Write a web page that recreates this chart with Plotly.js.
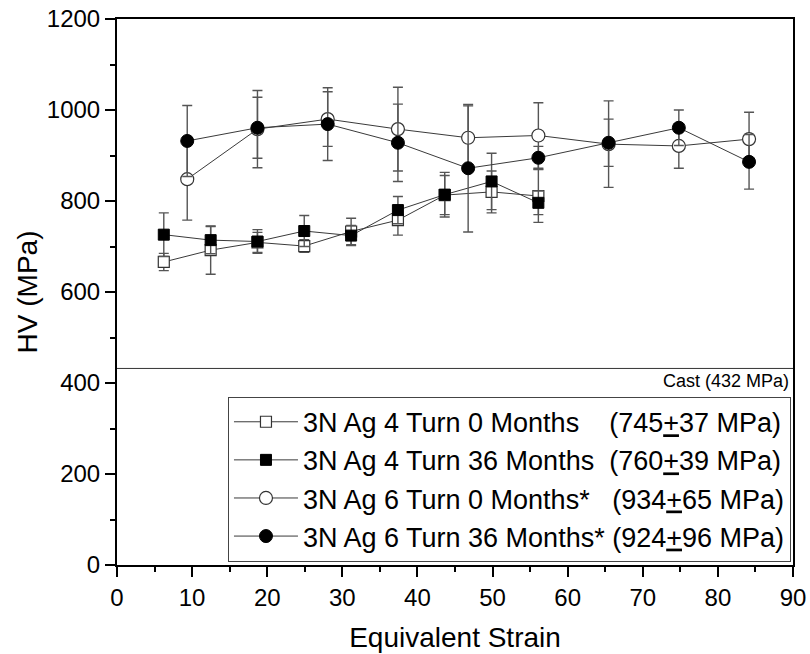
<!DOCTYPE html>
<html>
<head>
<meta charset="utf-8">
<script src="https://cdn.plot.ly/plotly-3.0.1.min.js"></script>
<style>
html,body{margin:0;padding:0;background:#fff;}
#chart{width:810px;height:654px;}
</style>
</head>
<body>
<div id="chart"></div>
<script>
// ---- data ----
const strain4Turn = [6.23, 12.47, 18.7, 24.93, 31.17, 37.4, 43.63, 49.87, 56.1];
const strain6Turn = [9.35, 18.7, 28.05, 37.4, 46.75, 56.1, 65.45, 74.8, 84.15];

const hv4Turn0 = [666, 692, 709, 701, 733, 758, 813, 820, 811];
const err4Turn0 = [19, 53, 22, 14, 29, 33, 43, 46, 58];

const hv4Turn36 = [726, 714, 711, 734, 724, 780, 814, 843, 796];
const err4Turn36 = [48, 30, 26, 34, 22, 30, 49, 62, 26];

const hv6Turn0 = [848, 958, 980, 958, 939, 944, 925, 921, 936];
const err6Turn0 = [90, 85, 60, 92, 70, 72, 95, 49, 59];

const hv6Turn36 = [932, 961, 969, 928, 872, 895, 928, 961, 886];
const err6Turn36 = [78, 67, 80, 85, 140, 25, 52, 39, 60];

const seriesNames = ['3N Ag 4 Turn 0 Months', '3N Ag 4 Turn 36 Months', '3N Ag 6 Turn 0 Months*', '3N Ag 6 Turn 36 Months*'];
const seriesMeans = [745, 760, 934, 924];
const seriesSD = [37, 39, 65, 96];
const castHV = 432;

// ---- styling ----
const FONT = 'Liberation Sans, Arial, sans-serif';
const LINE = '#3a3a3a';
const pads = [4, 2, 3, 1];

function label(i) {
  return seriesNames[i] + '\u00A0'.repeat(pads[i]) + '(' + seriesMeans[i] + '<u>+</u>' + seriesSD[i] + ' MPa)';
}
function errBars(arr) {
  return {type: 'data', array: arr, visible: true, color: '#555', thickness: 1.4, width: 5};
}

const traces = [
  {x: strain4Turn, y: hv4Turn0, error_y: errBars(err4Turn0), mode: 'lines+markers', name: label(0),
   line: {color: LINE, width: 1}, marker: {symbol: 'square', size: 11, color: '#fff', line: {color: '#333', width: 1.2}}},
  {x: strain4Turn, y: hv4Turn36, error_y: errBars(err4Turn36), mode: 'lines+markers', name: label(1),
   line: {color: LINE, width: 1}, marker: {symbol: 'square', size: 11, color: '#000', line: {color: '#000', width: 1}}},
  {x: strain6Turn, y: hv6Turn0, error_y: errBars(err6Turn0), mode: 'lines+markers', name: label(2),
   line: {color: LINE, width: 1}, marker: {symbol: 'circle', size: 13, color: '#fff', line: {color: '#333', width: 1.2}}},
  {x: strain6Turn, y: hv6Turn36, error_y: errBars(err6Turn36), mode: 'lines+markers', name: label(3),
   line: {color: LINE, width: 1}, marker: {symbol: 'circle', size: 13, color: '#000', line: {color: '#000', width: 1}}}
];

const layout = {
  width: 810, height: 654,
  margin: {l: 117, r: 17, t: 19, b: 89},
  paper_bgcolor: '#fff', plot_bgcolor: '#fff',
  font: {family: FONT, size: 24, color: '#000'},
  showlegend: true,
  legend: {
    x: 0.997, xanchor: 'right', y: 0.006, yanchor: 'bottom',
    bgcolor: '#fff', bordercolor: '#444', borderwidth: 1,
    font: {family: FONT, size: 27, color: '#000'},
    itemwidth: 64, traceorder: 'normal', tracegroupgap: 0
  },
  xaxis: {
    range: [0, 90], tick0: 0, dtick: 10,
    ticks: 'outside', ticklen: 10, tickwidth: 2, tickcolor: '#000',
    showline: true, linewidth: 2, linecolor: '#000', mirror: true,
    showgrid: false, zeroline: false,
    tickfont: {family: FONT, size: 24, color: '#000'},
    minor: {dtick: 5, ticks: 'outside', ticklen: 5, tickwidth: 2, tickcolor: '#000', showgrid: false},
    title: {text: 'Equivalent Strain', font: {family: FONT, size: 28, color: '#000'}, standoff: 18}
  },
  yaxis: {
    range: [0, 1200], tick0: 0, dtick: 200,
    ticks: 'outside', ticklen: 10, tickwidth: 2, tickcolor: '#000',
    showline: true, linewidth: 2, linecolor: '#000', mirror: true,
    showgrid: false, zeroline: false,
    tickfont: {family: FONT, size: 24, color: '#000'},
    minor: {dtick: 100, ticks: 'outside', ticklen: 5, tickwidth: 2, tickcolor: '#000', showgrid: false},
    title: {text: 'HV (MPa)', font: {family: FONT, size: 28, color: '#000'}, standoff: 1}
  },
  shapes: [{type: 'line', xref: 'paper', x0: 0, x1: 1, yref: 'y', y0: castHV, y1: castHV,
            line: {color: '#333', width: 1}}],
  annotations: [{xref: 'paper', x: 0.997, xanchor: 'right', yref: 'y', y: castHV, yanchor: 'top', yshift: -1,
                 text: 'Cast (' + castHV + ' MPa)', showarrow: false,
                 font: {family: FONT, size: 18, color: '#000'}}]
};

Plotly.newPlot('chart', traces, layout, {displayModeBar: false, staticPlot: true});
</script>
</body>
</html>
